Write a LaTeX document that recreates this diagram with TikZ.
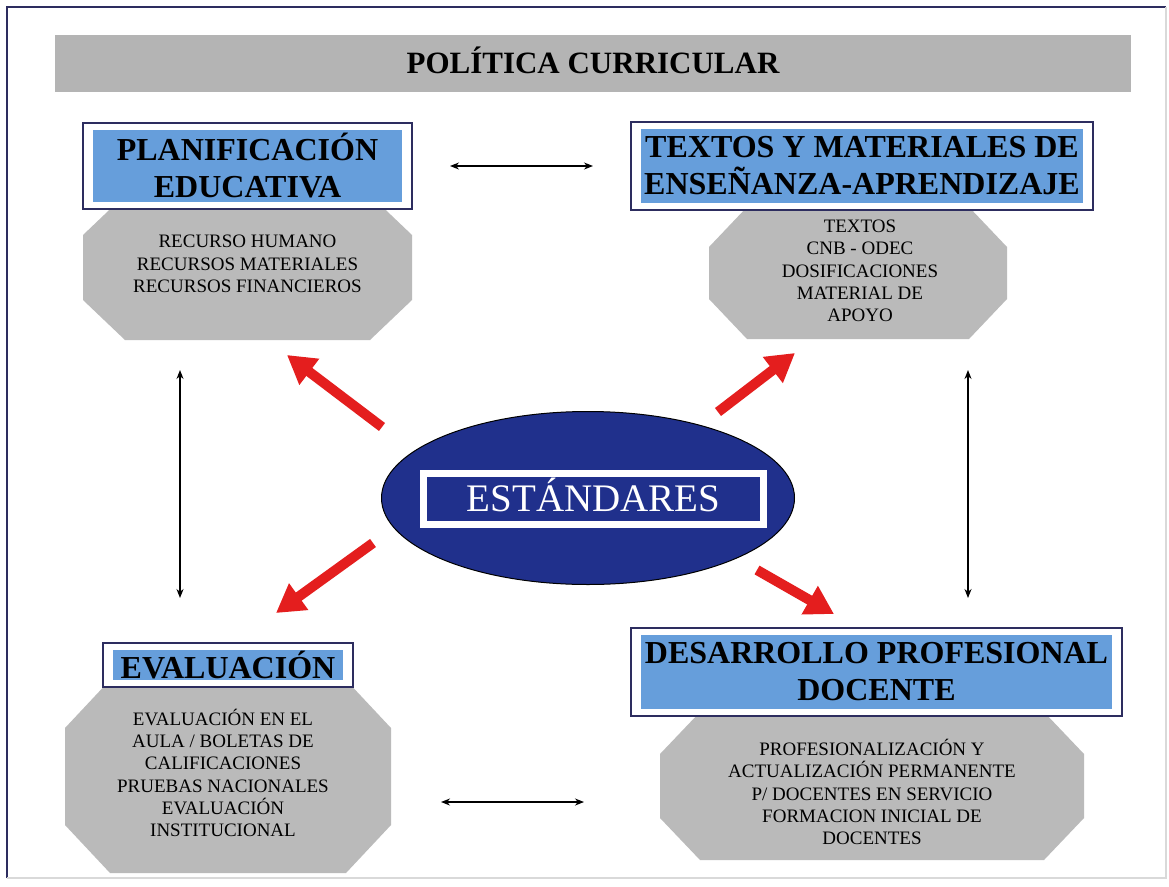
\documentclass[tikz,border=0pt]{standalone}
\usepackage{fontspec}
\setmainfont{Liberation Serif}
\usetikzlibrary{arrows.meta,shapes.geometric}

\definecolor{azulcab}{RGB}{102,158,219}
\definecolor{azulosc}{RGB}{32,48,140}
\definecolor{marco}{RGB}{45,45,95}
\definecolor{grisbarra}{RGB}{180,180,180}
\definecolor{grisoct}{RGB}{186,186,186}
\definecolor{rojo}{RGB}{228,30,30}

\tikzset{
  cabecera/.style={draw=marco, line width=1.3pt, fill=white, align=center, inner sep=0pt,
    font=\fontsize{32}{37}\selectfont\bfseries,
    path picture={\fill[azulcab] ([shift={(10pt,-7pt)}]path picture bounding box.north west)
      rectangle ([shift={(-10pt,7pt)}]path picture bounding box.south east);}},
  cuerpo/.style={align=center, inner sep=0pt, font=\fontsize{19}{22.3}\selectfont},
  flecha/.style={draw=rojo, line width=10pt, -{Triangle[length=28pt,width=31pt]}},
  doble/.style={line width=1.3pt, {Stealth[length=9pt,width=7pt]}-{Stealth[length=9pt,width=7pt]}},
}

\begin{document}
\begin{tikzpicture}[x=1pt,y=-1pt]
    % Marco
    \useasboundingbox (0,0) rectangle (1169,886);
    \fill[white] (0,0) rectangle (1169,886);
    \draw[marco, line width=1.5pt] (7,878) -- (7,7) -- (1166,7);
    \draw[black!15, line width=1.5pt] (7,878) -- (1166,878) -- (1166,7);

    % Titulo
    \node[fill=grisbarra, minimum width=1076pt, minimum height=57pt, inner sep=0pt,
          font=\fontsize{31}{36}\selectfont\bfseries, text height=20pt, text depth=0pt]
          (titulo) at (593,63.5) {POLÍTICA CURRICULAR};

    % Octagonos grises
    \fill[grisoct] (125,195) -- (370,195) -- (412,235) -- (412,300) -- (370,340)
        -- (125,340) -- (83,300) -- (83,235) -- cycle;
    \fill[grisoct] (747,207) -- (969,207) -- (1007,247) -- (1007,299) -- (969,339)
        -- (747,339) -- (709,299) -- (709,247) -- cycle;
    \fill[grisoct] (110,680) -- (346,680) -- (391,728) -- (391,825) -- (346,873)
        -- (110,873) -- (65,825) -- (65,728) -- cycle;
    \fill[grisoct] (700,712) -- (1044,712) -- (1084,754) -- (1084,818) -- (1044,860)
        -- (700,860) -- (660,818) -- (660,754) -- cycle;

    \node[cuerpo] (tplan) at (247.5,264) {RECURSO HUMANO\\RECURSOS MATERIALES\\RECURSOS FINANCIEROS};
    \node[cuerpo] (ttextos) at (860,271) {TEXTOS\\CNB - ODEC\\DOSIFICACIONES\\MATERIAL DE\\APOYO};
    \node[cuerpo] (teval) at (223,773) {EVALUACIÓN EN EL\\AULA / BOLETAS DE\\CALIFICACIONES\\PRUEBAS NACIONALES\\EVALUACIÓN\\INSTITUCIONAL};
    \node[cuerpo] (tdesa) at (872,792) {PROFESIONALIZACIÓN Y\\ACTUALIZACIÓN PERMANENTE\\P/ DOCENTES EN SERVICIO\\FORMACION INICIAL DE\\DOCENTES};

    % Cabeceras
    \node[cabecera, minimum width=329pt, minimum height=86pt] (plan) at (247.5,166) {PLANIFICACIÓN\\EDUCATIVA};
    \node[cabecera, minimum width=462pt, minimum height=88pt] (textos) at (862,166) {TEXTOS Y MATERIALES DE\\ENSEÑANZA-APRENDIZAJE};
    \node[cabecera, minimum width=250pt, minimum height=44pt] (eval) at (228,665) {EVALUACIÓN};
    \node[cabecera, minimum width=491pt, minimum height=88pt] (desa) at (876.5,672) {DESARROLLO PROFESIONAL\\DOCENTE};

    % Estandares
    \node[ellipse, fill=azulosc, draw=black, line width=1pt, minimum width=413pt,
          minimum height=173pt, inner sep=0pt] (est) at (588,498) {};
    \node[draw=white, line width=7pt, fill=azulosc, minimum width=340pt, minimum height=51pt,
          inner sep=0pt, text=white, font=\fontsize{39}{44}\selectfont, text height=25pt,
          text depth=0pt] (estbox) at (593.5,499) {ESTÁNDARES};

    % Flechas negras
    \coordinate (n1) at (450,166);
    \coordinate (n2) at (593,166);
    \coordinate (n3) at (180,370);
    \coordinate (n4) at (180,598);
    \coordinate (n5) at (968,370);
    \coordinate (n6) at (968,598);
    \coordinate (n7) at (441,802);
    \coordinate (n8) at (584,802);
    \draw[doble] (n1) -- (n2);
    \draw[doble] (n3) -- (n4);
    \draw[doble] (n5) -- (n6);
    \draw[doble] (n7) -- (n8);

    % Flechas rojas
    \coordinate (r1) at (382,427);
    \coordinate (r2) at (287,355);
    \coordinate (r3) at (718,412);
    \coordinate (r4) at (795,353);
    \coordinate (r5) at (373,543);
    \coordinate (r6) at (276,613);
    \coordinate (r7) at (757,570);
    \coordinate (r8) at (834,614);
    \draw[flecha] (r1) -- (r2);
    \draw[flecha] (r3) -- (r4);
    \draw[flecha] (r5) -- (r6);
    \draw[flecha] (r7) -- (r8);
\end{tikzpicture}
\end{document}
